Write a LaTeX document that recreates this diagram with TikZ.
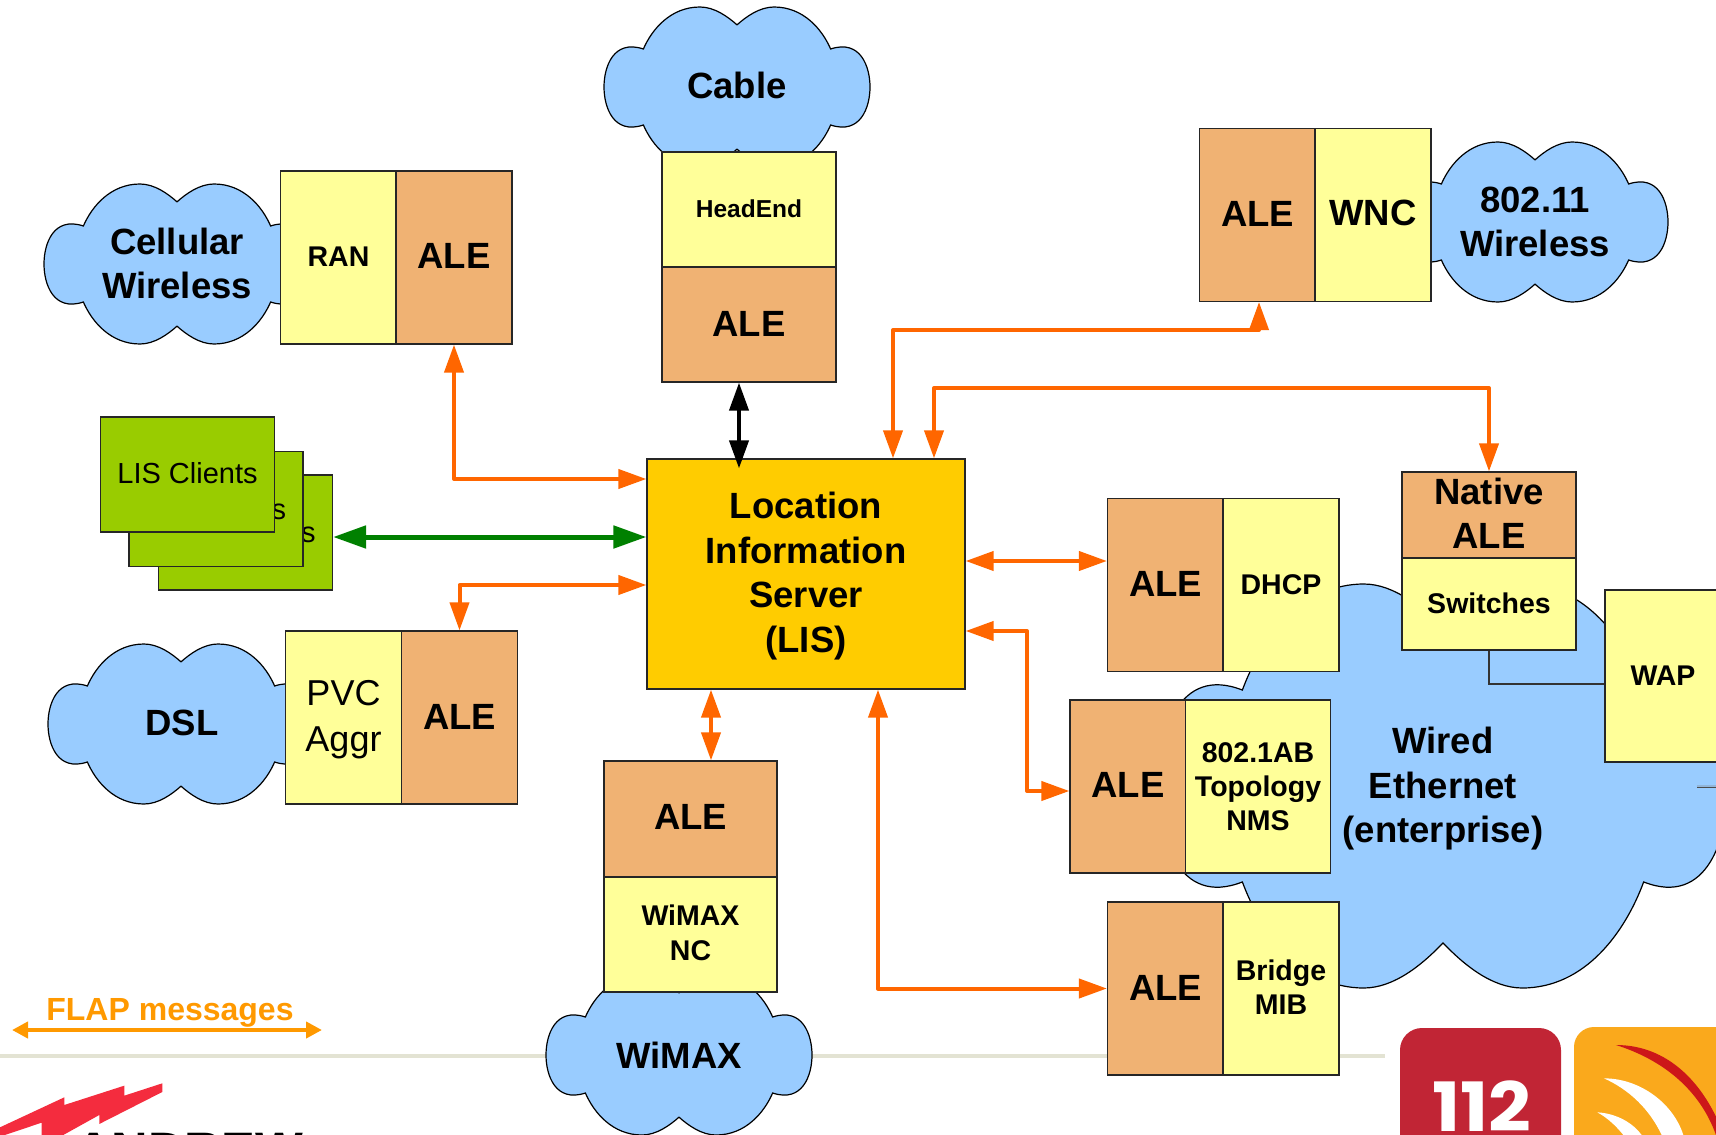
\documentclass[tikz,border=0pt]{standalone}
\usepackage{fontspec}
\setmainfont{Liberation Sans}
\newfontfamily\logofont{Poppins}
\usetikzlibrary{arrows.meta,calc}
\definecolor{cloudblue}{HTML}{99CCFF}
\definecolor{yel}{HTML}{FFFF99}
\definecolor{aleor}{HTML}{F0B273}
\definecolor{lisgold}{HTML}{FFCC00}
\definecolor{clientgreen}{HTML}{99CC00}
\definecolor{flap}{HTML}{FF6600}
\definecolor{legend}{HTML}{FF9900}
\definecolor{rule}{HTML}{E3E3D3}
\definecolor{logored}{HTML}{C12535}
\definecolor{logoorange}{HTML}{FAA91C}
\definecolor{deepred}{HTML}{CC1719}
\definecolor{boltred}{HTML}{F42C3E}
\definecolor{arrowgreen}{HTML}{008000}
\newcommand{\fs}[2]{\fontsize{#1}{#2}\selectfont}
\newcommand{\bfs}[2]{\fontsize{#1}{#2}\selectfont\bfseries}
% \cloudpath{cx}{cy}{rx}{ry}
\newcommand{\cloudpath}[4]{%
\begin{scope}[shift={(#1,#2)},x=#3pt,y=-#4pt]
\draw[cloudline] (0,.777) .. controls (.07,.88) and (.17,1) .. (.278,1)
 .. controls (.5,1) and (.64,.72) .. (.704,.475)
 .. controls (.93,.6) and (1,.25) .. (1,0)
 .. controls (1,-.25) and (.93,-.6) .. (.704,-.475)
 .. controls (.64,-.72) and (.5,-1) .. (.278,-1)
 .. controls (.17,-1) and (.07,-.88) .. (0,-.777)
 .. controls (-.07,-.88) and (-.17,-1) .. (-.278,-1)
 .. controls (-.5,-1) and (-.64,-.72) .. (-.704,-.475)
 .. controls (-.93,-.6) and (-1,-.25) .. (-1,0)
 .. controls (-1,.25) and (-.93,.6) .. (-.704,.475)
 .. controls (-.64,.72) and (-.5,1) .. (-.278,1)
 .. controls (-.17,1) and (-.07,.88) .. (0,.777) -- cycle;
\end{scope}}
\tikzset{
 cloudline/.style={draw=black,fill=cloudblue,line width=1.2pt},
 cloudtext/.style={align=center,inner sep=0pt,font=\bfs{36.5}{44.5}},
 boxbase/.style={draw=black!85,line width=1.2pt,inner sep=0pt,align=center},
 yelbox/.style={boxbase,fill=yel,font=\bfs{28.5}{35}},
 alebox/.style={boxbase,fill=aleor,font=\bfs{36.5}{44.5}},
 clientbox/.style={boxbase,fill=clientgreen,font=\fs{29}{34}},
 sidebox/.style={minimum width=116pt,minimum height=173pt},
 stackbox/.style={minimum width=174pt,minimum height=115pt},
 flapline/.style={draw=flap,line width=4pt,{Triangle[length=28pt,width=19pt]}-{Triangle[length=28pt,width=19pt]},line join=round},
}
\begin{document}
\begin{tikzpicture}[x=1pt,y=-1pt]
\useasboundingbox (0,0) rectangle (1716,1135);
\clip (0,0) rectangle (1716,1135);
% rule and legend
\coordinate (ruleL) at (0,1056);
\coordinate (ruleR) at (1385,1056);
\draw[rule,line width=3.5pt] (ruleL) -- (ruleR);
\coordinate (legL) at (12,1030);
\coordinate (legR) at (322,1030);
\draw[legend,line width=4pt,{Triangle[length=16pt,width=16pt]}-{Triangle[length=16pt,width=16pt]}] (legL) -- (legR);
\node[inner sep=0pt,text=legend,font=\bfs{32}{36}] (legtext) at (170,1013) {FLAP messages};
% clouds
\cloudpath{737}{87}{133}{80}
\cloudpath{177}{264}{133}{80}
\cloudpath{1535}{222}{133}{80}
\cloudpath{181}{724}{133}{80}
\cloudpath{679}{1055}{133}{80}
\cloudpath{1443}{786}{285}{202}
\node[cloudtext] (tcable) at (737,85) {Cable};
\node[cloudtext] (tcell) at (177,263.5) {Cellular\\Wireless};
\node[cloudtext] (t80211) at (1535,222) {802.11\\Wireless};
\node[cloudtext] (tdsl) at (182,723) {DSL};
\node[cloudtext] (twimax) at (679,1055) {WiMAX};
\node[cloudtext] (twired) at (1443,789) {Wired\\Ethernet\\(enterprise)};
% clients
\node[clientbox,stackbox] (cl3) at (245.5,532.5) {LIS Clients};
\node[clientbox,stackbox] (cl2) at (216,509) {LIS Clients};
\node[clientbox,stackbox,text depth=3pt] (cl1) at (187.5,474.5) {LIS Clients};
% boxes
\node[yelbox,sidebox,text depth=2pt] (ran) at (338.5,257.5) {RAN};
\node[alebox,sidebox,text depth=4pt] (aleCell) at (454,257.5) {ALE};
\node[yelbox,minimum width=174pt,minimum height=115pt,text depth=2pt,font=\bfs{24.5}{30}] (head) at (749,209.5) {HeadEnd};
\node[alebox,minimum width=174pt,minimum height=115pt,text depth=1pt] (aleCable) at (749,324.5) {ALE};
\node[alebox,sidebox,text depth=2pt] (aleWnc) at (1257.5,215) {ALE};
\node[yelbox,sidebox,text depth=4pt,font=\bfs{36.5}{44.5}] (wnc) at (1373,215) {WNC};
\node[alebox,minimum width=174pt,minimum height=86pt] (aleNative) at (1489,515) {};
\node[inner sep=0pt,align=center,font=\bfs{36.5}{44}] (nativetext) at (1489,513) {Native\\ALE};
\node[yelbox,minimum width=174pt,minimum height=92pt,text depth=2pt] (sw) at (1489,604) {Switches};
\node[yelbox,minimum width=116pt,minimum height=172pt] (wap) at (1663,676) {WAP};
\node[alebox,sidebox,text depth=2pt] (aleDhcp) at (1165.5,585) {ALE};
\node[yelbox,sidebox] (dhcp) at (1281,585) {DHCP};
\node[alebox,sidebox,text depth=4pt] (aleTopo) at (1128,786.5) {ALE};
\node[yelbox,minimum width=145pt,minimum height=173pt,font=\bfs{28.5}{34}] (topo) at (1258,786.5) {802.1AB\\Topology\\NMS};
\node[alebox,sidebox,text depth=2pt] (aleBridge) at (1165.5,988.5) {ALE};
\node[yelbox,sidebox,text depth=2pt,font=\bfs{28.5}{34}] (bridge) at (1281,988.5) {Bridge\\MIB};
\node[yelbox,sidebox] (pvc) at (343.5,717.5) {};
\node[inner sep=0pt,align=center,font=\fs{36}{46}] (pvctext) at (343.5,720) {PVC\\Aggr};
\node[alebox,sidebox,text depth=2pt] (aleDsl) at (459.5,717.5) {ALE};
\node[alebox,minimum width=173pt,minimum height=116pt,text depth=4pt] (aleWimax) at (690.5,819) {ALE};
\node[yelbox,minimum width=173pt,minimum height=115pt,text depth=3pt] (nc) at (690.5,934.5) {WiMAX\\NC};
\node[boxbase,fill=lisgold,minimum width=318pt,minimum height=230pt] (lis) at (806,574) {};
\node[inner sep=0pt,align=center,font=\bfs{36.5}{44.5}] (listext) at (806,576) {Location\\Information\\Server\\(LIS)};
% plain links
\draw[black!80,line width=1.2pt] (sw.south) |- (wap.west |- 0,684);
\coordinate (stubL) at (1697,786);
\coordinate (stubR) at (1716,786);
\draw[black!70,line width=3pt] (stubL) -- (stubR);
\draw[cloudblue!70!gray,line width=1.4pt] (stubL) -- (stubR);
% connectors
\draw[flapline] (aleCell.south) |- (lis.west |- 0,479);
\draw[flapline] (aleDsl.north) |- (lis.west |- 0,585);
\draw[flapline] (lis.north -| 893,0) |- (1259,330) -- (1259,302);
\draw[flapline] (lis.north -| 934,0) |- (1489,388) -- (aleNative.north);
\draw[flapline] (lis.east |- 0,561) -- (aleDhcp.west |- 0,561);
\draw[flapline] (lis.east |- 0,631) -| (1027,791) -- (aleTopo.west |- 0,791);
\draw[flapline] (lis.south -| 878,0) |- (aleBridge.west);
\draw[flapline] (lis.south -| 711,0) -- (aleWimax.north -| 711,0);
\draw[black,line width=4pt,{Triangle[length=28pt,width=19pt]}-{Triangle[length=28pt,width=19pt]}] (aleCable.south -| 739,0) -- ($(lis.north -| 739,0)+(0,10)$);
\draw[arrowgreen,line width=5pt,{Triangle[length=33pt,width=22pt]}-{Triangle[length=33pt,width=22pt]}] (cl3.east |- 0,537) -- (lis.west |- 0,537);
% Andrew logo
\begin{scope}[shift={(0,950)},x=.3333pt,y=-.3333pt]
\fill[boltred] (0,532) -- (193,442) -- (193,465) -- (373,407) -- (373,437) -- (487,400) -- (487,426) -- (298,522) -- (298,495) -- (190,555) -- (125,555) -- (125,518) -- (15,555) -- (0,555) -- cycle;
\end{scope}
\node[anchor=north west,inner sep=0pt,font=\bfs{44}{44},xscale=1.15] (andrew) at (75,1133) {ANDREW};
% 112 logo
\fill[logored,rounded corners=22pt] (1400,1028) rectangle (1561,1200);
\node[text=white,inner sep=0pt,anchor=base,font=\logofont\bfs{68}{68},xscale=1.1] (t112) at (1482,1131) {112};
% antenna logo
\fill[logoorange,rounded corners=20pt] (1574,1027) rectangle (1760,1200);
\begin{scope}[shift={(1400,1020)},x=.3333pt,y=-.3333pt]
\fill[deepred] (648,75) .. controls (790,75) and (890,170) .. (948,290) -- (948,345) .. controls (900,210) and (790,120) .. (648,75) -- cycle;
\fill[white] (612,175) .. controls (720,175) and (820,250) .. (850,345) -- (785,345) .. controls (750,270) and (690,210) .. (612,175) -- cycle;
\fill[white] (592,277) .. controls (650,280) and (700,310) .. (725,345) -- (670,345) .. controls (650,320) and (625,295) .. (592,277) -- cycle;
\end{scope}
\end{tikzpicture}
\end{document}
